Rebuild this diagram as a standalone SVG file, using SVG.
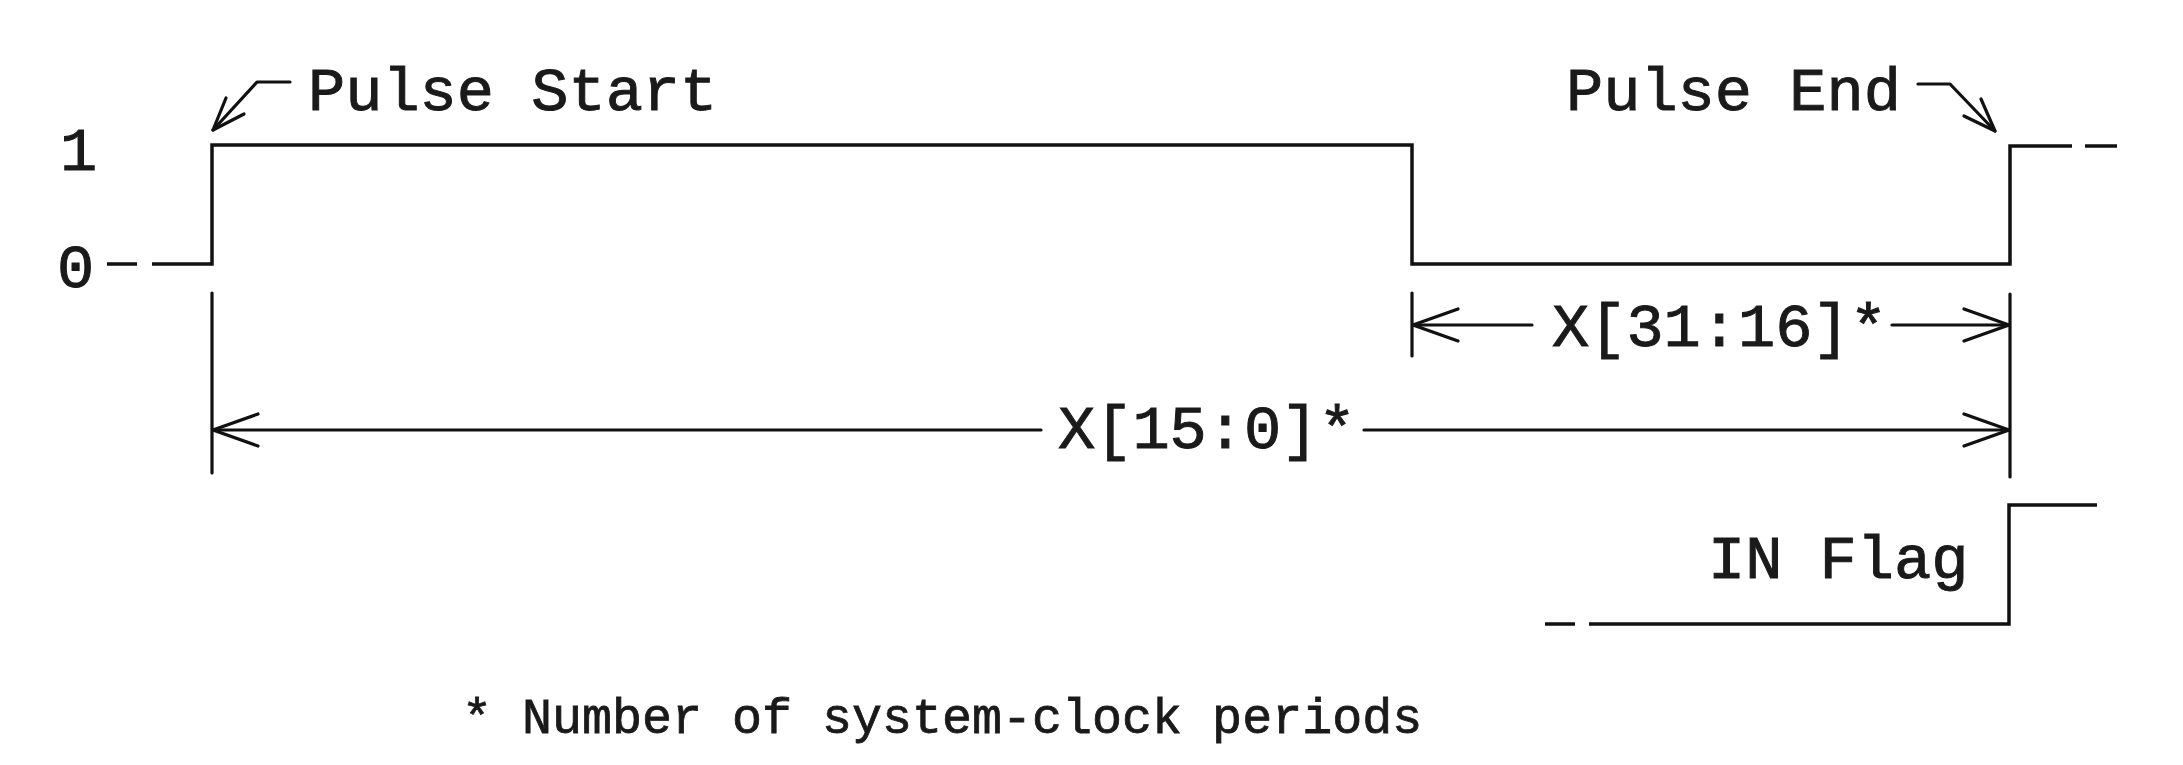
<svg xmlns="http://www.w3.org/2000/svg" width="2183" height="765" viewBox="0 0 2183 765">
<style>
.w{fill:none;stroke:#111;stroke-width:3.5;stroke-linecap:butt;stroke-linejoin:miter}
.c{fill:none;stroke:#111;stroke-width:3.2;stroke-linecap:round;stroke-linejoin:round}
.t{font-family:"Liberation Mono","DejaVu Sans Mono",monospace;font-size:62px;fill:#1a1a1a;stroke:#1a1a1a;stroke-width:1}
.s{font-family:"Liberation Mono","DejaVu Sans Mono",monospace;font-size:50px;fill:#1a1a1a;stroke:#1a1a1a;stroke-width:0.8}
</style>
<defs>
<marker id="ah" viewBox="0 0 50 40" refX="48" refY="20" markerWidth="50" markerHeight="40" markerUnits="userSpaceOnUse" orient="auto-start-reverse">
<path d="M3,4 L48,20 L3,36" fill="none" stroke="#111" stroke-width="3.2" stroke-linecap="round"/>
</marker>
</defs>
<rect width="2183" height="765" fill="#fff"/>
<g id="signal-labels">
<text class="t" x="60" y="170">1</text>
<text class="t" x="57" y="287">0</text>
</g>
<g id="pulse-waveform">
<path class="w" d="M107,264 H137 M152,264 H212 V145 H1412 V264 H2010 V146 H2072 M2085,146 H2117"/>
</g>
<g id="pulse-start">
<text class="t" x="308" y="110">Pulse Start</text>
</g>
<g id="pulse-end">
<text class="t" x="1566" y="110">Pulse End</text>
</g>
<g id="in-flag">
<text class="t" x="1708" y="578">IN Flag</text>
<path class="w" d="M1545,624 H1575 M1589,624 H2009 V505 H2097"/>
</g>
<g id="x31-16">
<text class="t" x="1552" y="346">X[31:16]*</text>
</g>
<g id="x15-0">
<text class="t" x="1058" y="448">X[15:0]*</text>
</g>
<g id="footnote">
<text class="s" x="462" y="733">* Number of system-clock periods</text>
</g>
<g id="connectors">
<path class="c" d="M290,82 H257 L213,130"/>
<path class="c" d="M226,98 L213,130 L244,114"/>
<path class="c" d="M1918,84 H1950 L1995,131"/>
<path class="c" d="M1981,99 L1995,131 L1964,116"/>
<path class="c" d="M212,293 V473 M1412,293 V356 M2010,294 V477"/>
<path class="c" d="M1532,325 H1413" marker-end="url(#ah)"/>
<path class="c" d="M1892,325 H2009" marker-end="url(#ah)"/>
<path class="c" d="M1041,430 H213" marker-end="url(#ah)"/>
<path class="c" d="M1364,430 H2009" marker-end="url(#ah)"/>
</g>
</svg>
